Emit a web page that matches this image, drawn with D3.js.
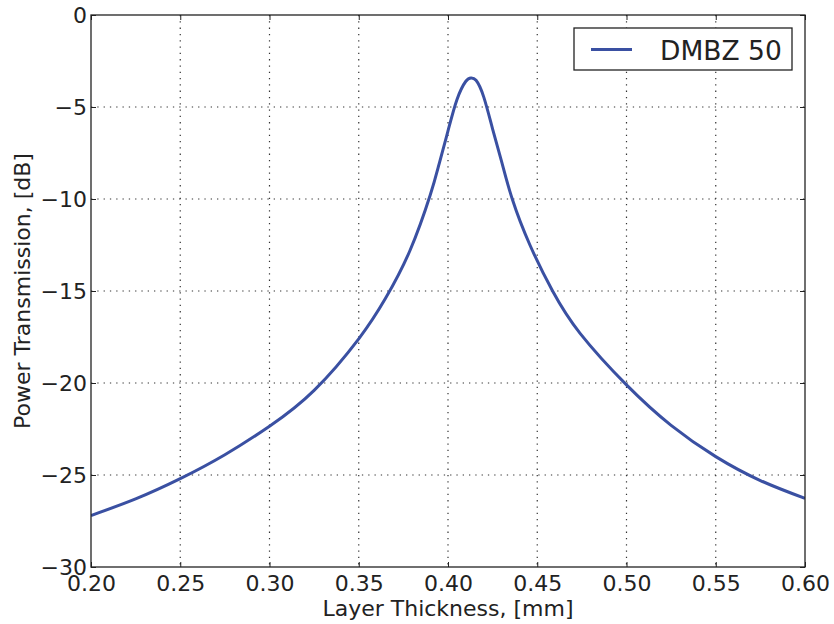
<!DOCTYPE html>
<meta charset="utf-8">
<title>Power Transmission vs Layer Thickness</title>
<style type="text/css">
	body { margin: 0; background: white; }
	text { font-family: "DejaVu Sans", sans-serif; fill: #222; }
	.grid line { stroke: #333; stroke-width: 1.2; stroke-dasharray: 1.3,5; }
</style>
<body>
<div id="chart"></div>
<script src="https://d3js.org/d3.v7.min.js"></script>
<script>

// values
var thickness = [0.200, 0.225, 0.250, 0.275, 0.300, 0.325, 0.350, 0.365, 0.3787, 0.390,
	0.395, 0.400, 0.405, 0.410, 0.4129, 0.4157, 0.420, 0.425, 0.430, 0.436,
	0.4459, 0.4586, 0.474, 0.500, 0.525, 0.550, 0.575, 0.600];
var transmission = [-27.2, -26.3, -25.2, -23.9, -22.35, -20.4, -17.6, -15.4, -12.8, -9.8,
	-8.1, -6.3, -4.6, -3.6, -3.42, -3.55, -4.45, -6.2, -7.95, -10.0,
	-12.5, -15.0, -17.3, -20.1, -22.3, -24.0, -25.3, -26.27];
var xTicks = [0.20, 0.25, 0.30, 0.35, 0.40, 0.45, 0.50, 0.55, 0.60];
var yTicks = [0, -5, -10, -15, -20, -25, -30];
var seriesName = "DMBZ 50";

var margin = {top: 15, right: 29, bottom: 57, left: 91},
	width = 834 - margin.left - margin.right,
	height = 624 - margin.top - margin.bottom;

var data = thickness.map(function (d, i) { return {x: d, y: transmission[i]}; });

var svg = d3.select("#chart").append("svg")
	.attr("width", 834)
	.attr("height", 624)
	.append("g")
	.attr("transform", "translate(" + margin.left + "," + margin.top + ")");

var xScale = d3.scaleLinear().domain([0.2, 0.6]).range([0, width]);
var yScale = d3.scaleLinear().domain([-30, 0]).range([height, 0]);

// dotted grid
var grid = svg.append("g").attr("class", "grid");
grid.selectAll(".vx").data(xTicks.slice(1, -1)).enter().append("line")
	.attr("x1", function (d) { return xScale(d); })
	.attr("x2", function (d) { return xScale(d); })
	.attr("y1", 0).attr("y2", height);
grid.selectAll(".hy").data(yTicks.slice(1, -1)).enter().append("line")
	.attr("y1", function (d) { return yScale(d); })
	.attr("y2", function (d) { return yScale(d); })
	.attr("x1", 0).attr("x2", width);

// the curve
svg.append("clipPath").attr("id", "clip").append("rect")
	.attr("width", width).attr("height", height);

svg.append("path")
	.datum(data)
	.attr("clip-path", "url(#clip)")
	.attr("d", d3.line()
		.x(function (d) { return xScale(d.x); })
		.y(function (d) { return yScale(d.y); })
		.curve(d3.curveNatural))
	.attr("stroke", "#3a50a2")
	.style("stroke-width", 3)
	.style("fill", "none");

// axes with inward ticks on all four sides
function styleAxis(g) {
	g.select(".domain").remove();
	g.selectAll(".tick line").attr("stroke", "#222").attr("stroke-width", 1);
	g.selectAll(".tick text").style("font-size", "22px").style("font-family", "DejaVu Sans").attr("fill", "#222");
}

var xAxis = svg.append("g")
	.attr("transform", "translate(0," + height + ")")
	.call(d3.axisBottom(xScale).tickValues(xTicks).tickFormat(d3.format(".2f")).tickSizeInner(-5).tickPadding(10));
styleAxis(xAxis);
xAxis.selectAll(".tick text").attr("y", 24).attr("dy", 0);

var yAxis = svg.append("g")
	.call(d3.axisLeft(yScale).tickValues(yTicks).tickSizeInner(-5).tickPadding(4));
styleAxis(yAxis);
yAxis.selectAll(".tick text").attr("x", -4).attr("dy", "0.36em");

var xTop = svg.append("g")
	.call(d3.axisTop(xScale).tickValues(xTicks).tickSizeInner(-5).tickFormat(""));
styleAxis(xTop);
var yRight = svg.append("g")
	.attr("transform", "translate(" + width + ",0)")
	.call(d3.axisRight(yScale).tickValues(yTicks).tickSizeInner(-5).tickFormat(""));
styleAxis(yRight);

// frame
svg.append("rect")
	.attr("width", width).attr("height", height)
	.attr("fill", "none").attr("stroke", "#222").attr("stroke-width", 1.3);

// axis labels
svg.append("text")
	.attr("x", width / 2)
	.attr("y", height + 49)
	.style("text-anchor", "middle")
	.style("font-size", "22px")
	.text("Layer Thickness, [mm]");

svg.append("text")
	.attr("transform", "rotate(-90)")
	.attr("x", -height / 2)
	.attr("y", -61)
	.style("text-anchor", "middle")
	.style("font-size", "22px")
	.text("Power Transmission, [dB]");

// legend
var legend = svg.append("g").attr("transform", "translate(" + (width - 231) + ",13)");
legend.append("rect").attr("x", 0).attr("y", 0).attr("width", 218).attr("height", 42)
	.attr("fill", "white").attr("stroke", "#222").attr("stroke-width", 1.3);
legend.append("line").attr("x1", 17).attr("x2", 58).attr("y1", 21.5).attr("y2", 21.5)
	.attr("stroke", "#3a50a2").attr("stroke-width", 3);
legend.append("text").attr("x", 86).attr("y", 31.5)
	.style("font-size", "26.5px").text(seriesName);

</script>
</body>
